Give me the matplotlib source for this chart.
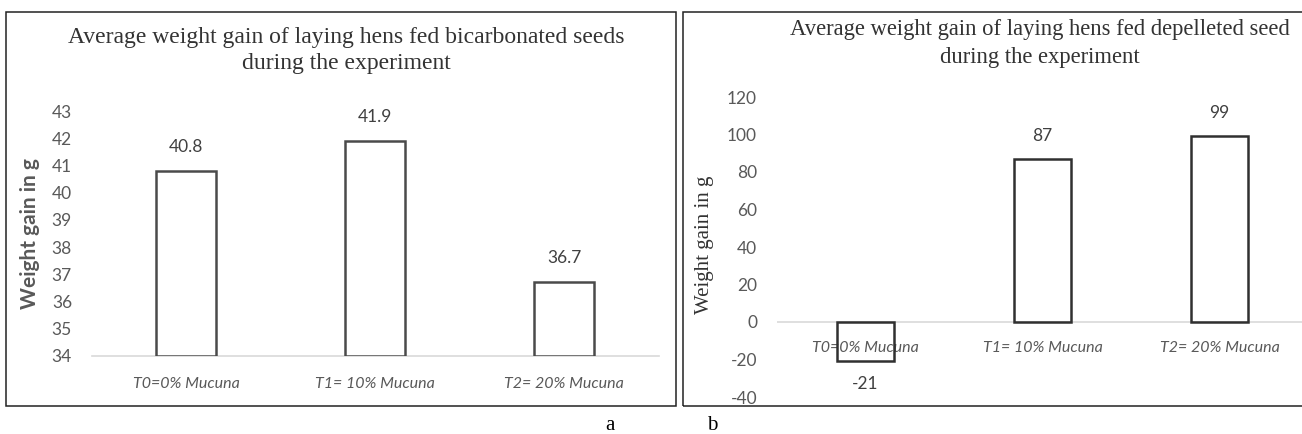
import matplotlib
matplotlib.use("Agg")
from matplotlib import pyplot as plt
from matplotlib.patches import Rectangle
import numpy as np

categories = ["T0=0% Mucuna", "T1= 10% Mucuna", "T2= 20% Mucuna"]
gain_bicarb = [40.8, 41.9, 36.7]
gain_depel = [-21, 87, 99]
labels_bicarb = ["40.8", "41.9", "36.7"]
labels_depel = ["-21", "87", "99"]
ticks_bicarb = [34, 35, 36, 37, 38, 39, 40, 41, 42, 43]
ticks_depel = [-40, -20, 0, 20, 40, 60, 80, 100, 120]

W, H = 1302, 434
SANS = ["Lato", "DejaVu Sans"]
SERIF = ["Liberation Serif", "DejaVu Serif"]
EDGE = "#4a4a4a"
GRAY = "#595959"
TITLE = "#333333"

fig = plt.figure(figsize=(W / 100, H / 100), dpi=100)


def fx(px):
    return px / W


def fy(py):
    return 1 - py / H


def style_axes(ax, cats, ticks):
    x = np.arange(len(cats))
    ax.set_xlim(-0.5, len(cats) - 0.5)
    ax.set_xticks(x)
    ax.set_xticklabels(cats, family=SANS, style="italic", fontsize=11.5, color=GRAY)
    ax.set_yticks(ticks)
    ax.set_yticklabels([str(t) for t in ticks], family=SANS, fontsize=12.5, color=GRAY)
    ax.tick_params(length=0)
    for s in ax.spines.values():
        s.set_visible(False)
    ax.patch.set_alpha(0)
    return x


# panel a
ax1 = fig.add_axes([fx(91.5), fy(356), fx(567), 245 / H])
x = style_axes(ax1, categories, ticks_bicarb)
ax1.set_ylim(34, 43)
ax1.axhline(34, color="#d9d9d9", lw=1.2, clip_on=False)
ax1.bar(x, np.array(gain_bicarb) - 34, bottom=34, width=0.32, color="white",
        edgecolor=EDGE, linewidth=1.8, zorder=3)
for xi, v, t in zip(x, gain_bicarb, labels_bicarb):
    ax1.annotate(t, (xi, v), xytext=(0, 24), textcoords="offset pixels",
                 ha="center", va="center", family=SANS, fontsize=12.5, color="#404040")
ax1.tick_params(axis="y", pad=14)
ax1.tick_params(axis="x", pad=15)
fig.text(fx(30), fy(234), "Weight gain in g", rotation=90, ha="center", va="center",
         family=SANS, fontweight="bold", fontsize=15, color=GRAY)
fig.text(fx(346), fy(37), "Average weight gain of laying hens fed bicarbonated seeds",
         ha="center", va="center", family=SERIF, fontsize=17, color=TITLE)
fig.text(fx(346), fy(63), "during the experiment",
         ha="center", va="center", family=SERIF, fontsize=17, color=TITLE)

# panel b
ax2 = fig.add_axes([fx(777), fy(397), fx(531), 300 / H])
x = style_axes(ax2, categories, ticks_depel)
ax2.set_ylim(-40, 120)
ax2.axhline(0, color="#d9d9d9", lw=1.2, zorder=1)
ax2.bar(x, gain_depel, width=0.32, color="none",
        edgecolor="#303030", linewidth=1.8, zorder=3)
for xi, v, t in zip(x, gain_depel, labels_depel):
    off = 23 if v >= 0 else -23
    ax2.annotate(t, (xi, v), xytext=(0, off), textcoords="offset pixels",
                 ha="center", va="center", family=SANS, fontsize=12.5, color="#404040")
ax2.tick_params(axis="y", pad=14.4)
ax2.tick_params(axis="x", pad=-40)
fig.text(fx(705), fy(245), "Weight gain in g", rotation=90, ha="center", va="center",
         family=SERIF, fontsize=15, color=TITLE)
fig.text(fx(1040), fy(30), "Average weight gain of laying hens fed depelleted seed",
         ha="center", va="center", family=SERIF, fontsize=16.3, color=TITLE)
fig.text(fx(1040), fy(58), "during the experiment",
         ha="center", va="center", family=SERIF, fontsize=16.3, color=TITLE)

# panel borders and letters
fig.add_artist(Rectangle((fx(6), fy(406)), fx(670), (406 - 12) / H,
                         transform=fig.transFigure, fill=False, edgecolor="#222222", lw=1.1))
fig.add_artist(Rectangle((fx(683), fy(406)), fx(640), (406 - 12) / H,
                         transform=fig.transFigure, fill=False, edgecolor="#222222", lw=1.1))
fig.text(fx(610), fy(425), "a", ha="center", va="center", family=SERIF, fontsize=15, color="black")
fig.text(fx(712), fy(425), "b", ha="center", va="center", family=SERIF, fontsize=15, color="black")

plt.savefig("out.png", dpi=100)
